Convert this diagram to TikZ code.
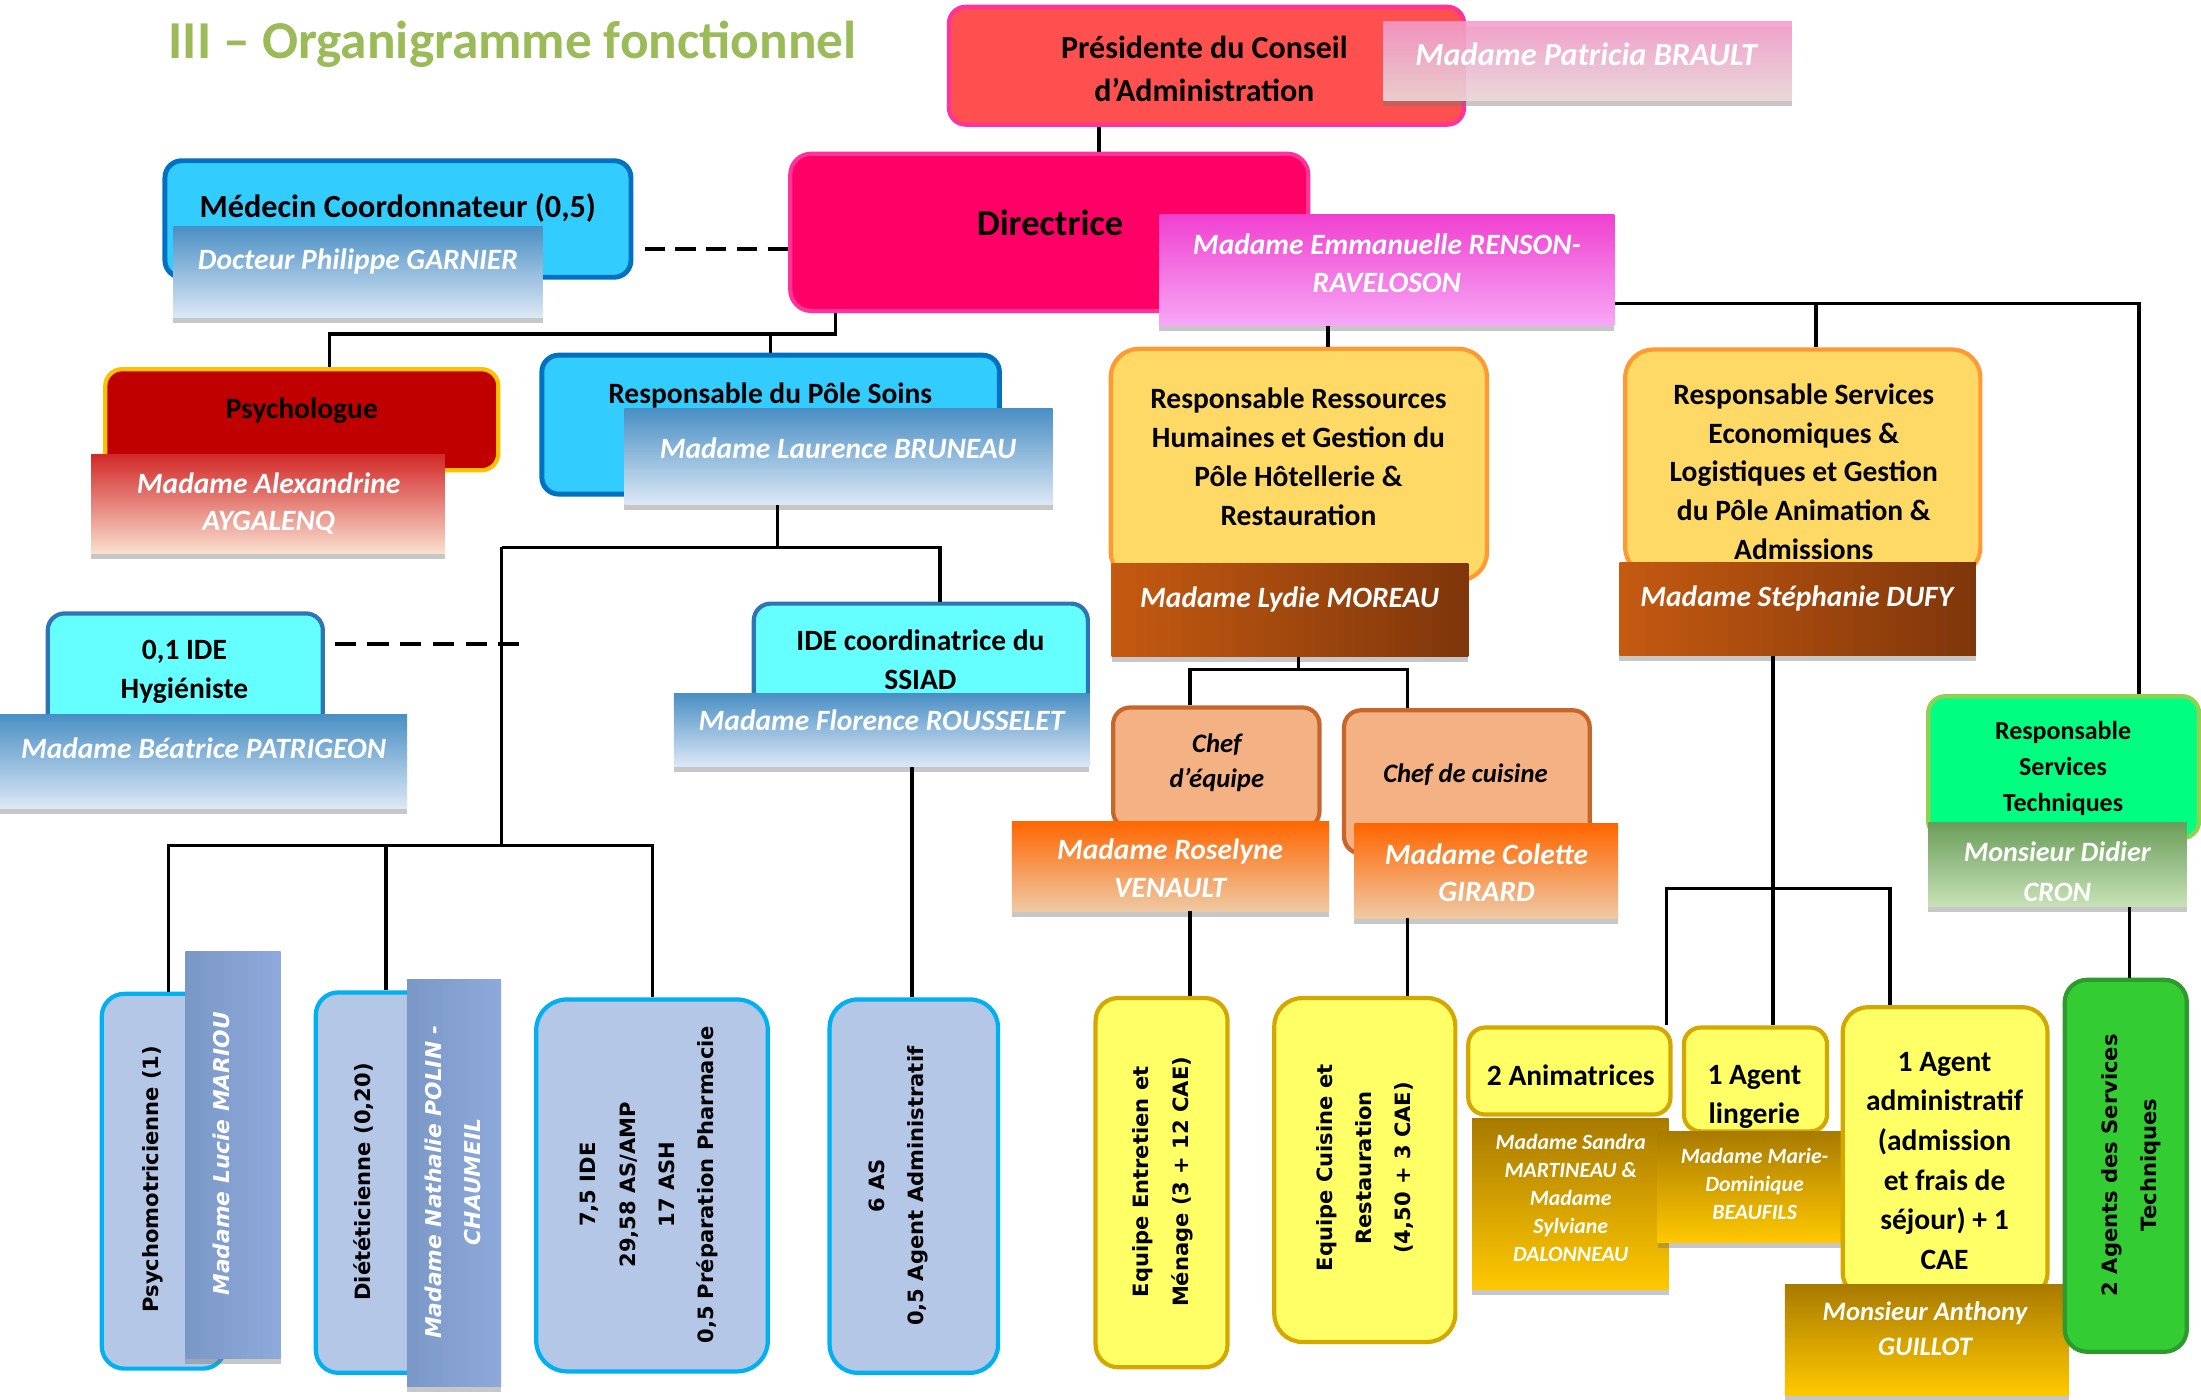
\documentclass[tikz,border=0pt]{standalone}
\usepackage{fontspec}
\setmainfont{Carlito}
\newfontfamily\verdf{DejaVu Sans}
\usetikzlibrary{shadows}
\definecolor{ttl}{HTML}{9BBB59}
\definecolor{presF}{HTML}{FF5050}
\definecolor{pinkD}{HTML}{FF3399}
\definecolor{dirF}{HTML}{FF0066}
\definecolor{cyanF}{HTML}{33CCFF}
\definecolor{blueD}{HTML}{0070C0}
\definecolor{aquaF}{HTML}{66FFFF}
\definecolor{aquaD}{HTML}{2E75B6}
\definecolor{psyF}{HTML}{C00000}
\definecolor{goldD}{HTML}{FFC000}
\definecolor{yelF}{HTML}{FFD966}
\definecolor{orD}{HTML}{FF9933}
\definecolor{peachF}{HTML}{F4B183}
\definecolor{peachD}{HTML}{C8662A}
\definecolor{lyF}{HTML}{FFFF66}
\definecolor{lyD}{HTML}{D4A800}
\definecolor{grF}{HTML}{00FF80}
\definecolor{grD}{HTML}{92D050}
\definecolor{dgF}{HTML}{33CC33}
\definecolor{dgD}{HTML}{2E9A2E}
\definecolor{sbF}{HTML}{B4C7E7}
\definecolor{sbD}{HTML}{00B0F0}
\definecolor{presNt}{HTML}{F79ACB}
\definecolor{presNm}{HTML}{D9A0B4}
\definecolor{presNb}{HTML}{EEDCDC}
\definecolor{dirNt}{HTML}{F040D0}
\definecolor{dirNb}{HTML}{F7A8F5}
\definecolor{bluNt}{HTML}{4A8FC4}
\definecolor{bluNm}{HTML}{A9C8E8}
\definecolor{bluNb}{HTML}{DCE8F6}
\definecolor{psyNt}{HTML}{D22A2A}
\definecolor{psyNb}{HTML}{FADFCF}
\definecolor{brL}{HTML}{C55A11}
\definecolor{brR}{HTML}{7F360B}
\definecolor{orNt}{HTML}{FF6600}
\definecolor{orNb}{HTML}{EFC9A4}
\definecolor{grNt}{HTML}{6B9E5A}
\definecolor{grNb}{HTML}{C8E2B8}
\definecolor{gdNt}{HTML}{A87A00}
\definecolor{gdNb}{HTML}{FFC800}
\definecolor{stL}{HTML}{7A98C6}
\definecolor{stM}{HTML}{A8C6EC}
\definecolor{stR}{HTML}{8EAADC}
\begin{document}
\begin{tikzpicture}[x=1pt,y=-1pt,
  sz/.style 2 args={minimum width=#1pt,minimum height=#2pt},
  bx/.style={draw,rounded corners=12pt,line width=3pt,inner sep=0pt},
  nb/.style={inner sep=0pt,drop shadow={shadow xshift=0pt,shadow yshift=-4pt,opacity=0.4,fill=black!55}},
  bluN/.style={nb,top color=bluNt,middle color=bluNm,bottom color=bluNb},
  strip/.style={nb,left color=stL,middle color=stM,right color=stR},
  mt/.style={font=\fontsize{21}{27.7}\selectfont\bfseries,align=center,inner sep=0pt},
  nt/.style={font=\fontsize{21}{26.5}\selectfont\bfseries\itshape,text=white,align=center,inner sep=0pt},
  st/.style={font=\fontsize{15.5}{20}\selectfont\bfseries\itshape,text=white,align=center,inner sep=0pt},
  vt/.style={font=\verdf\fontsize{15}{28}\selectfont\bfseries,align=center,rotate=90,inner sep=0pt},
  vn/.style={font=\verdf\fontsize{15.5}{27.5}\selectfont\bfseries\itshape,text=white,align=center,rotate=90,inner sep=0pt},
  ln/.style={line width=2.3pt,black},
  dl/.style={line width=3pt,black,dash pattern=on 14.5pt off 7.4pt},
]
\fill[white] (0,0) rectangle (1568,997);
\useasboundingbox (0,0) rectangle (1568,997);

% title
\node[anchor=base west,font=\fontsize{38}{40}\selectfont\bfseries,text=ttl,inner sep=0pt] (title) at (120,41.6) {III – Organigramme fonctionnel};

% ---- top
\node[bx,sz={367}{84},fill=presF,draw=pinkD] (pres) at (859.5,46.8) {};
\node[nb,sz={291}{56},top color=presNt,middle color=presNm,bottom color=presNb,opacity=0.88] (presN) at (1131,43.4) {};
\node[mt,font=\fontsize{22.8}{30.2}\selectfont\bfseries] (presT) at (858,49) {Présidente du Conseil\\d’Administration};
\node[nt,font=\fontsize{23}{26}\selectfont\bfseries\itshape] (presNT) at (1130,38.5) {Madame Patricia BRAULT};

\node[bx,sz={369}{112},fill=dirF,draw=pinkD,rounded corners=15pt] (dir) at (747.5,165.5) {};
\node[nb,sz={324}{79},top color=dirNt,bottom color=dirNb] (dirN) at (988,192.5) {};
\node[mt,font=\fontsize{26}{30}\selectfont\bfseries] (dirT) at (748,159) {Directrice};
\node[nt] (dirNT) at (988,187.5) {Madame Emmanuelle RENSON-\\RAVELOSON};

\node[bx,sz={332}{83},fill=cyanF,draw=blueD,line width=3.5pt] (med) at (283.5,156) {};
\node[bluN,sz={263}{65}] (medN) at (255,193.5) {};
\node[mt,font=\fontsize{23}{27}\selectfont\bfseries] (medT) at (283.4,148.5) {Médecin Coordonnateur (0,5)};
\node[nt] (medNT) at (255,186) {Docteur Philippe GARNIER};

\node[bx,sz={280}{72},fill=psyF,draw=goldD] (psy) at (215,299) {};
\node[nb,sz={252}{70},top color=psyNt,bottom color=psyNb] (psyN) at (191,359) {};
\node[mt] (psyT) at (215,292.5) {Psychologue};
\node[nt] (psyNT) at (191.4,358.5) {Madame Alexandrine\\AYGALENQ};

\node[bx,sz={326}{99},fill=cyanF,draw=blueD,line width=3.5pt] (soins) at (549,302.5) {};
\node[bluN,sz={305}{68}] (soinsN) at (597.3,325.2) {};
\node[mt] (soinsT) at (548.7,282) {Responsable du Pôle Soins};
\node[nt] (soinsNT) at (597,319) {Madame Laurence BRUNEAU};

\node[bx,sz={196}{90},fill=aquaF,draw=aquaD] (hyg) at (132,482) {};
\node[bluN,sz={290}{67}] (hygN) at (145,542.5) {};
\node[mt] (hygT) at (131.4,478.5) {0,1 IDE\\Hygiéniste};
\node[nt] (hygNT) at (145,533) {Madame Béatrice PATRIGEON};

\node[bx,sz={238}{90},fill=aquaF,draw=aquaD] (ide) at (656,475) {};
\node[bluN,sz={296}{52}] (ideN) at (628,520) {};
\node[mt] (ideT) at (655.7,470) {IDE coordinatrice du\\SSIAD};
\node[nt] (ideNT) at (628,513) {Madame Florence ROUSSELET};

% ---- bottom left
\node[bx,sz={88}{267},fill=sbF,draw=sbD,rounded corners=16pt] (psm) at (116.5,841.5) {};
\node[strip,sz={68}{290}] (psmN) at (166,823) {};
\node[vt] (psmT) at (109,840) {Psychomotricienne (1)};
\node[vn] (psmNT) at (157.6,822) {Madame Lucie MARIOU};

\node[bx,sz={88}{271},fill=sbF,draw=sbD,rounded corners=16pt] (diet) at (269,842.5) {};
\node[strip,sz={67}{290}] (dietN) at (323.5,843) {};
\node[vt] (dietT) at (259,842) {Diététicienne (0,20)};
\node[vn] (dietNT) at (322.5,842) {Madame Nathalie POLIN -\\CHAUMEIL};

\node[bx,sz={165}{265},fill=sbF,draw=sbD,rounded corners=22pt] (ide75) at (464.5,844.5) {};
\node[vt] (ide75T) at (462.5,844) {7,5 IDE\\29,58 AS/AMP\\17 ASH\\0,5 Préparation Pharmacie};

\node[bx,sz={120}{266},fill=sbF,draw=sbD,rounded corners=20pt] (as6) at (651,845) {};
\node[vt] (as6T) at (640,845) {6 AS\\0,5 Agent Administratif};

% ---- right
\node[bx,sz={268}{165},fill=yelF,draw=orD,rounded corners=20pt] (rh) at (925.3,331) {};
\node[nb,sz={254}{66},left color=brL,right color=brR] (rhN) at (919,434.5) {};
\node[mt] (rhT) at (925,325.5) {Responsable Ressources\\Humaines et Gestion du\\Pôle Hôtellerie \&\\Restauration};
\node[nt] (rhNT) at (918.7,427) {Madame Lydie MOREAU};

\node[bx,sz={253}{161},fill=yelF,draw=orD,rounded corners=20pt] (ses) at (1284.3,329.5) {};
\node[nb,sz={254}{66},left color=brL,right color=brR] (sesN) at (1280.6,433.8) {};
\node[mt] (sesT) at (1285,336) {Responsable Services\\Economiques \&\\Logistiques et Gestion\\du Pôle Animation \&\\Admissions};
\node[nt] (sesNT) at (1280,426.5) {Madame Stéphanie DUFY};

\node[bx,sz={147}{86},fill=peachF,draw=peachD] (chq) at (866.5,547) {};
\node[nb,sz={226}{64},top color=orNt,middle color=orNt!85!orNb,bottom color=orNb] (chqN) at (833.8,617) {};
\node[mt,font=\fontsize{19}{24.7}\selectfont\bfseries\itshape] (chqT) at (866.9,543.5) {Chef\\d’équipe};
\node[nt] (chqNT) at (833.6,618.5) {Madame Roselyne\\VENAULT};

\node[bx,sz={175}{102},fill=peachF,draw=peachD] (chc) at (1045,557) {};
\node[nb,sz={188}{67},top color=orNt,middle color=orNt!85!orNb,bottom color=orNb] (chcN) at (1058.8,620.5) {};
\node[mt,font=\fontsize{19}{24.7}\selectfont\bfseries\itshape] (chcT) at (1044,552) {Chef de cuisine};
\node[nt] (chcNT) at (1059,622) {Madame Colette\\GIRARD};

\node[bx,sz={94}{263},fill=lyF,draw=lyD,rounded corners=16pt] (eqe) at (827.5,842.5) {};
\node[vt] (eqeT) at (828.4,842) {Equipe Entretien et\\Ménage (3 + 12 CAE)};

\node[bx,sz={129}{245},fill=lyF,draw=lyD,rounded corners=20pt] (eqc) at (972.3,833.5) {};
\node[vt] (eqcT) at (972.3,832) {Equipe Cuisine et\\Restauration\\(4,50 + 3 CAE)};

\node[bx,sz={144}{62},fill=lyF,draw=lyD] (ani) at (1118,763) {};
\node[nb,sz={140}{122},top color=gdNt,bottom color=gdNb] (aniN) at (1118.8,857.8) {};
\node[mt] (aniT) at (1119,766) {2 Animatrices};
\node[st] (aniNT) at (1119,853.5) {Madame Sandra\\MARTINEAU \&\\Madame\\Sylviane\\DALONNEAU};

\node[bx,sz={102}{74},fill=lyF,draw=lyD] (lin) at (1250.6,769) {};
\node[nb,sz={138}{79},top color=gdNt,bottom color=gdNb] (linN) at (1249.8,845.3) {};
\node[mt] (linT) at (1249.8,781.5) {1 Agent\\lingerie};
\node[st] (linNT) at (1250,843.5) {Madame Marie-\\Dominique\\BEAUFILS};

\node[bx,sz={146}{207},fill=lyF,draw=lyD,rounded corners=18pt] (adm) at (1385.7,821) {};
\node[nb,sz={202}{79},top color=gdNt,bottom color=gdNb] (admN) at (1372.6,954.3) {};
\node[mt,font=\fontsize{21}{28.2}\selectfont\bfseries] (admT) at (1385.3,827) {1 Agent\\administratif\\(admission\\et frais de\\séjour) + 1\\CAE};
\node[nt,font=\fontsize{19}{24.5}\selectfont\bfseries\itshape] (admNT) at (1371.4,946.5) {Monsieur Anthony\\GUILLOT};

\node[bx,sz={193}{101},fill=grF,draw=grD] (stech) at (1470.1,546.5) {};
\node[nb,sz={184}{60},top color=grNt,bottom color=grNb] (stechN) at (1465.8,616) {};
\node[mt,font=\fontsize{18.5}{25.5}\selectfont\bfseries] (stechT) at (1469.7,547.5) {Responsable\\Services\\Techniques};
\node[nt,font=\fontsize{20}{28}\selectfont\bfseries\itshape] (stechNT) at (1465.6,621) {Monsieur Didier\\CRON};

\node[bx,sz={87}{265},fill=dgF,draw=dgD,rounded corners=16pt] (ag2) at (1514.4,830.5) {};
\node[vt] (ag2T) at (1518,830) {2 Agents des Services\\Techniques};

% ---- connectors
\coordinate (cPD) at (783,0);
\draw[ln] (pres.south -| cPD) -- (dir.north -| cPD);
\coordinate (cMD) at (0,177.6);
\draw[dl] (med.east |- cMD) ++(8,0) -- (dir.west |- cMD);

\coordinate (cDL) at (595,238);
\coordinate (cPs) at (235,0);
\coordinate (cSo) at (549,0);
\draw[ln] (dir.south -| cDL) -- (cDL) -- (cDL -| cPs) -- (psy.north -| cPs);
\draw[ln] (cDL -| cSo) -- (soins.north -| cSo);

\coordinate (cSB) at (554,390);
\coordinate (cL) at (357.3,0);
\coordinate (cIde) at (669.7,0);
\coordinate (cBB) at (0,602.5);
\draw[ln] (soinsN.south -| cSB) -- (cSB);
\draw[ln] (cSB -| cL) -- (cSB -| cIde) -- (ide.north -| cIde);
\draw[ln] (cSB -| cL) -- (cBB -| cL);
\coordinate (cHy) at (369.5,458.8);
\draw[dl,dash pattern=on 15pt off 8.3pt] (hyg.east |- cHy) ++(7,0) -- (cHy);

\coordinate (x120) at (120,0);
\coordinate (x275) at (275,0);
\coordinate (x465) at (464.7,0);
\draw[ln] (psm.north -| x120) -- (cBB -| x120) -- (cBB -| x465) -- (ide75.north -| x465);
\draw[ln] (cBB -| x275) -- (diet.north -| x275);
\coordinate (x650) at (649.7,0);
\draw[ln] (ideN.south -| x650) -- (as6.north -| x650);

\coordinate (cR) at (0,216);
\coordinate (x1294) at (1293.7,0);
\coordinate (x1524) at (1523.8,0);
\draw[ln] (dirN.east |- cR) -- (cR -| x1524) -- (stech.north -| x1524);
\draw[ln] (cR -| x1294) -- (ses.north -| x1294);
\coordinate (x946) at (946,0);
\draw[ln] (dirN.south -| x946) -- (rh.north -| x946);

\coordinate (cH) at (925,477);
\coordinate (x848) at (847.7,0);
\coordinate (x1002) at (1002.7,0);
\draw[ln] (rhN.south -| cH) -- (cH);
\draw[ln] (chq.north -| x848) -- (cH -| x848) -- (cH -| x1002) -- (chc.north -| x1002);
\draw[ln] (chqN.south -| x848) -- (eqe.north -| x848);
\draw[ln] (chcN.south -| x1002) -- (eqc.north -| x1002);

\coordinate (x1263) at (1263,0);
\coordinate (cA) at (0,633);
\coordinate (x1187) at (1187,0);
\coordinate (x1346) at (1346.5,0);
\draw[ln] (sesN.south -| x1263) -- (lin.north -| x1263);
\draw[ln] (ani.north -| x1187) -- (cA -| x1187) -- (cA -| x1346) -- (adm.north -| x1346);

\coordinate (x1517) at (1517,0);
\draw[ln] (stechN.south -| x1517) -- (ag2.north -| x1517);
\end{tikzpicture}
\end{document}
